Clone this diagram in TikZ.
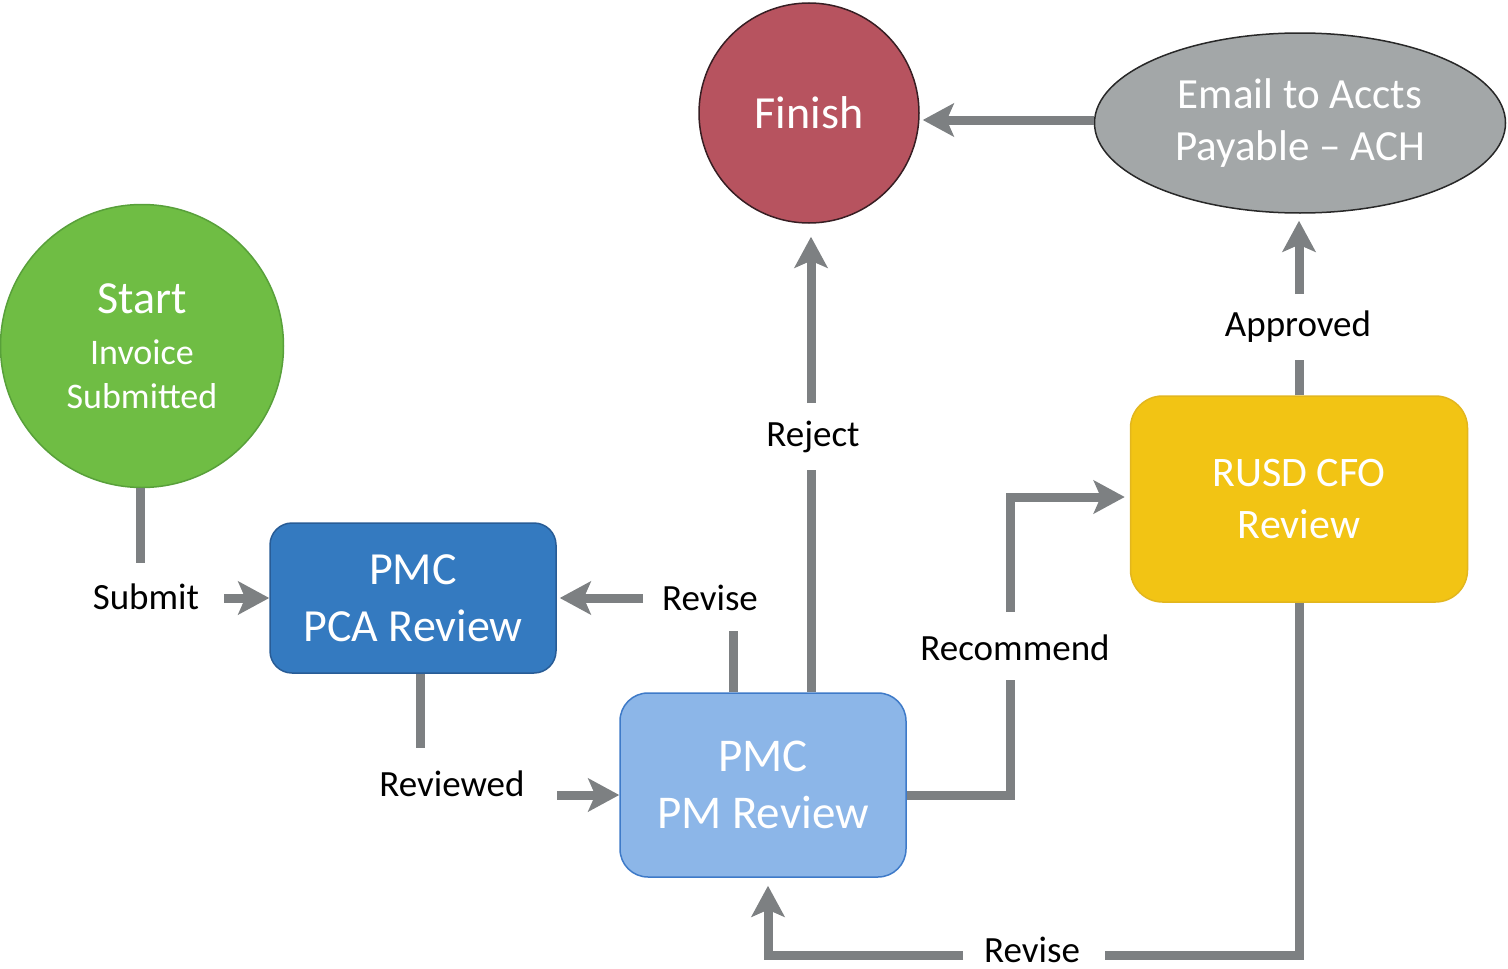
\documentclass[tikz,border=0pt]{standalone}
\usepackage{fontspec}
\setmainfont{Carlito}
\usetikzlibrary{arrows.meta,shapes.geometric,calc}
\definecolor{cgreen}{RGB}{111,189,68}
\definecolor{cgreenb}{RGB}{88,160,58}
\definecolor{cred}{RGB}{183,83,95}
\definecolor{credb}{RGB}{55,30,35}
\definecolor{cgray}{RGB}{163,167,168}
\definecolor{cgrayb}{RGB}{40,40,40}
\definecolor{cblue}{RGB}{52,122,192}
\definecolor{cblueb}{RGB}{40,92,150}
\definecolor{clblue}{RGB}{140,182,232}
\definecolor{clblueb}{RGB}{62,122,200}
\definecolor{cyel}{RGB}{242,196,20}
\definecolor{cyelb}{RGB}{226,182,30}
\definecolor{cline}{RGB}{125,128,130}
\begin{document}
\begin{tikzpicture}[x=1pt,y=-1pt,
  shapebox/.style={text=white, align=center, line width=1.5pt, inner sep=0pt},
  roundbox/.style={shapebox, rectangle, rounded corners=#1},
  lbl/.style={text=black, font=\fontsize{37}{44}\selectfont, inner sep=0pt},
  conn/.style={draw=cline, line width=9pt},
  arr/.style={conn, -{Stealth[length=31pt,width=33pt,inset=7pt]}}]
\useasboundingbox (0,0) rectangle (1508,969);
% nodes
\node[shapebox, circle, minimum size=283pt, fill=cgreen, draw=cgreenb, font=\fontsize{36}{44}\selectfont] (start) at (142,346)
  {{\fontsize{46}{50}\selectfont Start}\\[7pt]Invoice\\Submitted};
\node[shapebox, circle, minimum size=220pt, fill=cred, draw=credb, font=\fontsize{46}{55}\selectfont] (finish) at (809,113) {Finish};
\node[shapebox, ellipse, minimum width=411pt, minimum height=180pt, fill=cgray, draw=cgrayb, font=\fontsize{43}{52}\selectfont] (email) at (1300,123) {Email to Accts\\Payable -- ACH};
\node[roundbox=22pt, minimum width=286pt, minimum height=150pt, fill=cblue, draw=cblueb, font=\fontsize{46}{57}\selectfont] (pca) at (413,598) {PMC\\PCA Review};
\node[roundbox=28pt, minimum width=286pt, minimum height=184pt, fill=clblue, draw=clblueb, font=\fontsize{47}{57}\selectfont] (pm) at (763,785) {PMC\\PM Review};
\node[roundbox=32pt, minimum width=337pt, minimum height=206pt, fill=cyel, draw=cyelb, font=\fontsize{42}{52}\selectfont] (cfo) at (1299,499) {RUSD CFO\\Review};
% labels
\node[lbl] (lsubmit) at (146,597) {Submit};
\node[lbl] (lreviewed) at (452,784) {Reviewed};
\node[lbl] (lrevise1) at (710,598) {Revise};
\node[lbl] (lreject) at (813,437) {Reject};
\node[lbl] (lrecommend) at (1015,648) {Recommend};
\node[lbl] (lrevise2) at (1032,950) {Revise};
\node[lbl] (lapproved) at (1298,327) {Approved};
% free ends
\coordinate (sb1) at (140,563);
\coordinate (sb2) at (224,598);
\coordinate (rv1) at (420,748);
\coordinate (rv2) at (557,795);
\coordinate (rs1) at (733,631);
\coordinate (rs2) at (643,598);
\coordinate (rj1) at (811,470);
\coordinate (rj2) at (811,403);
\coordinate (rc1) at (1010,680);
\coordinate (rc2) at (1010,612);
\coordinate (bv1) at (1105,955);
\coordinate (bv2) at (963,955);
\coordinate (ap1) at (1299,360);
\coordinate (ap2) at (1299,294);
% connectors
\draw[conn] (start.south -| sb1) -- (sb1);
\draw[arr] (sb2) -- (sb2 -| pca.west);
\draw[conn] (pca.south -| rv1) -- (rv1);
\draw[arr] (rv2) -- (rv2 -| pm.west);
\draw[conn] (pm.north -| rs1) -- (rs1);
\draw[arr, shorten >=3pt] (rs2) -- (rs2 -| pca.east);
\draw[conn] (pm.north -| rj1) -- (rj1);
\draw[arr, shorten >=13pt] (rj2) -- (rj2 |- finish.south);
\draw[conn] ($(pm.east)+(0,10)$) -| (rc1);
\draw[arr, shorten >=5pt] (rc2) |- ($(cfo.west)+(0,-2)$);
\draw[conn] (cfo.south) |- (bv1);
\draw[arr, shorten >=8pt] (bv2) -| ($(pm.south)+(5,0)$);
\draw[conn] (cfo.north) -- (ap1);
\draw[arr, shorten >=7pt] (ap2) -- (ap2 |- email.south);
\draw[arr, shorten >=3pt] ($(email.west)+(0,-3)$) -- ($(email.west -| finish.east)+(0,-3)$);
\end{tikzpicture}
\end{document}
